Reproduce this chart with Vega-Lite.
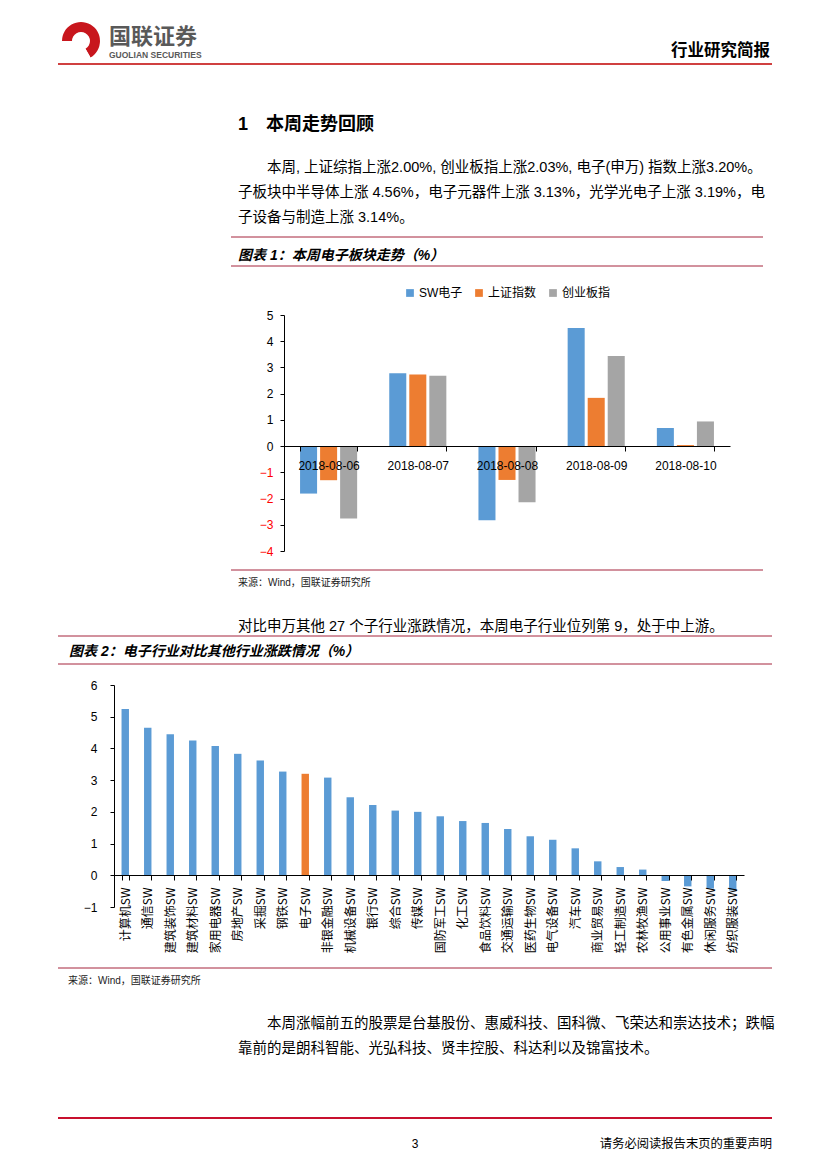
{
  "$schema": "https://vega.github.io/schema/vega-lite/v6.json",
  "background": "white",
  "padding": {"left": 57, "top": 22, "right": 0, "bottom": 0},
  "bounds": "flush",
  "spacing": 0,
  "resolve": {"scale": {"color": "independent"}, "legend": {"color": "independent"}},
  "config": {
    "view": {"stroke": null},
    "font": "Liberation Sans",
    "axis": {"domainColor": "black", "tickColor": "black", "labelColor": "black", "grid": false},
    "legend": {"layout": {"top": {"anchor": "middle"}}}
  },
  "datasets": {
    "logo": [
      {"seg": "弧", "v": 2},
      {"seg": "缺口", "v": 1}
    ],
    "chart1": [
      {"date": "2018-08-06", "series": "SW电子", "value": -1.81},
      {"date": "2018-08-06", "series": "上证指数", "value": -1.30},
      {"date": "2018-08-06", "series": "创业板指", "value": -2.76},
      {"date": "2018-08-07", "series": "SW电子", "value": 2.78},
      {"date": "2018-08-07", "series": "上证指数", "value": 2.73},
      {"date": "2018-08-07", "series": "创业板指", "value": 2.68},
      {"date": "2018-08-08", "series": "SW电子", "value": -2.83},
      {"date": "2018-08-08", "series": "上证指数", "value": -1.29},
      {"date": "2018-08-08", "series": "创业板指", "value": -2.14},
      {"date": "2018-08-09", "series": "SW电子", "value": 4.50},
      {"date": "2018-08-09", "series": "上证指数", "value": 1.84},
      {"date": "2018-08-09", "series": "创业板指", "value": 3.44},
      {"date": "2018-08-10", "series": "SW电子", "value": 0.69},
      {"date": "2018-08-10", "series": "上证指数", "value": 0.04},
      {"date": "2018-08-10", "series": "创业板指", "value": 0.94}
    ],
    "chart2": [
      {"industry": "计算机SW", "value": 5.24},
      {"industry": "通信SW", "value": 4.65},
      {"industry": "建筑装饰SW", "value": 4.45},
      {"industry": "建筑材料SW", "value": 4.25},
      {"industry": "家用电器SW", "value": 4.08},
      {"industry": "房地产SW", "value": 3.83},
      {"industry": "采掘SW", "value": 3.62},
      {"industry": "钢铁SW", "value": 3.27},
      {"industry": "电子SW", "value": 3.20},
      {"industry": "非银金融SW", "value": 3.08},
      {"industry": "机械设备SW", "value": 2.46},
      {"industry": "银行SW", "value": 2.22},
      {"industry": "综合SW", "value": 2.04},
      {"industry": "传媒SW", "value": 2.00},
      {"industry": "国防军工SW", "value": 1.86},
      {"industry": "化工SW", "value": 1.71},
      {"industry": "食品饮料SW", "value": 1.65},
      {"industry": "交通运输SW", "value": 1.46},
      {"industry": "医药生物SW", "value": 1.23},
      {"industry": "电气设备SW", "value": 1.12},
      {"industry": "汽车SW", "value": 0.85},
      {"industry": "商业贸易SW", "value": 0.44},
      {"industry": "轻工制造SW", "value": 0.26},
      {"industry": "农林牧渔SW", "value": 0.18},
      {"industry": "公用事业SW", "value": -0.18},
      {"industry": "有色金属SW", "value": -0.35},
      {"industry": "休闲服务SW", "value": -0.42},
      {"industry": "纺织服装SW", "value": -0.48}
    ]
  },
  "vconcat": [
    {
      "hconcat": [
        {
          "width": 4, "height": 1,
          "data": {"values": [{}]},
          "mark": {"type": "text", "text": "", "fontSize": 1, "baseline": "top"},
          "encoding": {}
        },
        {
          "width": 38, "height": 38,
          "data": {"name": "logo"},
          "mark": {"type": "arc", "innerRadius": 9, "outerRadius": 19},
          "encoding": {
            "theta": {"field": "v", "type": "quantitative", "stack": true, "scale": {"range": [2.62, 8.9]}},
            "color": {"field": "seg", "type": "nominal", "scale": {"domain": ["弧", "缺口"], "range": ["#C8161D", "#FFFFFF"]}, "legend": null},
            "order": {"field": "seg", "sort": "descending"}
          }
        }
      ],
      "spacing": 0,
      "bounds": "flush",
      "resolve": {"scale": {"color": "independent"}, "legend": {"color": "independent"}}
    },
    {
      "width": 1, "height": 42,
      "data": {"values": [{}]},
      "mark": {"type": "text", "text": "", "fontSize": 1, "baseline": "top"},
      "encoding": {}
    },
    {
      "hconcat": [
        {
          "width": 357, "height": 1,
          "title": {"text": "国联证券", "subtitle": "GUOLIAN SECURITIES", "anchor": "start", "frame": "group", "orient": "top", "offset": 3, "dx": 51, "baseline": "top", "font": "Noto Sans CJK SC", "fontSize": 22, "fontWeight": "bold", "color": "#595959", "subtitleFont": "Liberation Sans", "subtitleFontSize": 8.5, "subtitleFontWeight": "bold", "subtitleColor": "#595959", "subtitlePadding": 2},
          "data": {"values": [{}]},
          "mark": {"type": "rule", "color": "#C00000", "strokeWidth": 1.5},
          "encoding": {"y": {"datum": 1, "type": "quantitative", "scale": {"domain": [0, 1]}, "axis": null}}
        },
        {
          "width": 357, "height": 1,
          "title": {"text": "行业研究简报", "anchor": "end", "frame": "group", "orient": "top", "offset": 4, "dx": -2, "baseline": "top", "font": "Noto Sans CJK SC", "fontSize": 16.5, "fontWeight": "bold", "color": "black"},
          "data": {"values": [{}]},
          "mark": {"type": "rule", "color": "#C00000", "strokeWidth": 1.5},
          "encoding": {"y": {"datum": 1, "type": "quantitative", "scale": {"domain": [0, 1]}, "axis": null}}
        }
      ],
      "spacing": 0,
      "bounds": "flush"
    },
    {
      "width": 1, "height": 173,
      "data": {"values": [{}]},
      "mark": {"type": "text", "text": "", "fontSize": 1, "baseline": "top"},
      "encoding": {}
    },
    {
      "hconcat": [
        {
          "width": 173, "height": 1,
          "data": {"values": [{}]},
          "mark": {"type": "text", "text": "", "fontSize": 1, "baseline": "top"},
          "encoding": {}
        },
        {
          "vconcat": [
            {
              "width": 532, "height": 29,
              "title": {
                "text": "1\u2003本周走势回顾",
                "subtitle": ["\u200b\u3000\u3000本周, 上证综指上涨2.00%, 创业板指上涨2.03%, 电子(申万) 指数上涨3.20%。", "子板块中半导体上涨 4.56%，电子元器件上涨 3.13%，光学光电子上涨 3.19%，电", "子设备与制造上涨 3.14%。"],
                "anchor": "start", "frame": "group", "orient": "top", "offset": 12, "dx": 7, "baseline": "top",
                "font": "Liberation Sans, Noto Sans CJK SC", "fontSize": 18, "fontWeight": "bold", "color": "black",
                "subtitleFont": "Liberation Sans, Noto Sans CJK SC", "subtitleFontSize": 14.5, "subtitleFontWeight": "normal", "subtitleColor": "black", "subtitleLineHeight": 25, "subtitlePadding": 27
              },
              "data": {"values": [{}]},
              "mark": {"type": "rule", "color": "#A5243D", "strokeWidth": 1},
              "encoding": {"y": {"datum": 1, "type": "quantitative", "scale": {"domain": [0, 1]}, "axis": null}}
            },
            {
              "width": 532, "height": 49,
              "title": {"text": "图表 1：本周电子板块走势（%）", "anchor": "start", "frame": "group", "orient": "top", "offset": 3, "dx": 7, "baseline": "top", "font": "Liberation Sans, Noto Sans CJK SC", "fontSize": 14, "fontWeight": "bold", "fontStyle": "italic", "color": "black"},
              "data": {"values": [{}]},
              "mark": {"type": "rule", "color": "#A5243D", "strokeWidth": 1},
              "encoding": {"y": {"datum": 1, "type": "quantitative", "scale": {"domain": [0, 1]}, "axis": null}}
            },
            {
              "hconcat": [
                {
                  "width": 53, "height": 1,
                  "data": {"values": [{}]},
                  "mark": {"type": "text", "text": "", "fontSize": 1, "baseline": "top"},
                  "encoding": {}
                },
                {
                  "width": 446, "height": 236,
                  "data": {"name": "chart1"},
                  "mark": {"type": "bar"},
                  "encoding": {
                    "x": {"field": "date", "type": "nominal", "sort": null, "title": null,
                      "scale": {"paddingInner": 0.36, "paddingOuter": 0.18},
                      "axis": {"orient": "bottom", "offset": -105, "labelAngle": 0, "labelFont": "Liberation Sans", "labelFontSize": 12, "labelPadding": 9, "tickSize": 5, "tickBand": "extent", "zindex": 1, "domainWidth": 1}},
                    "xOffset": {"field": "series", "type": "nominal", "sort": ["SW电子", "上证指数", "创业板指"], "scale": {"paddingInner": 0.15, "paddingOuter": 0}},
                    "y": {"field": "value", "type": "quantitative", "title": null,
                      "scale": {"domain": [-4, 5], "nice": false},
                      "axis": {"values": [-4, -3, -2, -1, 0, 1, 2, 3, 4, 5], "labelFontSize": 12, "tickSize": 4, "labelPadding": 7,
                        "labelColor": {"condition": {"test": "datum.value < 0", "value": "#FF0000"}, "value": "black"}}},
                    "color": {"field": "series", "type": "nominal", "sort": ["SW电子", "上证指数", "创业板指"],
                      "scale": {"domain": ["SW电子", "上证指数", "创业板指"], "range": ["#5B9BD5", "#ED7D31", "#A5A5A5"]},
                      "legend": {"orient": "top", "direction": "horizontal", "title": null, "symbolType": "square", "symbolSize": 60, "labelFont": "Liberation Sans, Noto Sans CJK SC", "labelFontSize": 12, "labelColor": "black", "offset": 16, "columnPadding": 10, "labelOffset": 3}}
                  }
                }
              ],
              "spacing": 0,
              "bounds": "flush",
              "resolve": {"scale": {"color": "independent"}, "legend": {"color": "independent"}}
            },
            {
              "width": 1, "height": 255,
              "data": {"values": [{}]},
              "mark": {"type": "text", "text": "", "fontSize": 1, "baseline": "top"},
              "encoding": {}
            },
            {
              "width": 532, "height": 1,
              "title": {"text": "来源：Wind，国联证券研究所", "anchor": "start", "frame": "group", "orient": "bottom", "offset": 7, "dx": 7, "baseline": "top", "font": "Liberation Sans, Noto Sans CJK SC", "fontSize": 10, "fontWeight": "normal", "color": "#222222"},
              "data": {"values": [{}]},
              "mark": {"type": "rule", "color": "#A5243D", "strokeWidth": 1},
              "encoding": {"y": {"datum": 1, "type": "quantitative", "scale": {"domain": [0, 1]}, "axis": null}}
            }
          ],
          "spacing": 0,
          "bounds": "flush",
          "resolve": {"scale": {"color": "independent"}, "legend": {"color": "independent"}}
        }
      ],
      "spacing": 0,
      "bounds": "flush",
      "resolve": {"scale": {"color": "independent"}, "legend": {"color": "independent"}}
    },
    {
      "width": 1, "height": 399,
      "data": {"values": [{}]},
      "mark": {"type": "text", "text": "", "fontSize": 1, "baseline": "top"},
      "encoding": {}
    },
    {
      "width": 714, "height": 28,
      "title": {"text": "对比申万其他 27 个子行业涨跌情况，本周电子行业位列第 9，处于中上游。", "anchor": "start", "frame": "group", "orient": "top", "offset": 1, "dx": 180, "baseline": "top", "font": "Liberation Sans, Noto Sans CJK SC", "fontSize": 14.5, "fontWeight": "normal", "color": "black"},
      "data": {"values": [{}]},
      "mark": {"type": "rule", "color": "#A5243D", "strokeWidth": 1},
      "encoding": {"y": {"datum": 1, "type": "quantitative", "scale": {"domain": [0, 1]}, "axis": null}}
    },
    {
      "width": 714, "height": 21,
      "title": {"text": "图表 2：电子行业对比其他行业涨跌情况（%）", "anchor": "start", "frame": "group", "orient": "top", "offset": 5, "dx": 11, "baseline": "top", "font": "Liberation Sans, Noto Sans CJK SC", "fontSize": 14, "fontWeight": "bold", "fontStyle": "italic", "color": "black"},
      "data": {"values": [{}]},
      "mark": {"type": "rule", "color": "#A5243D", "strokeWidth": 1},
      "encoding": {"y": {"datum": 1, "type": "quantitative", "scale": {"domain": [0, 1]}, "axis": null}}
    },
    {
      "hconcat": [
        {
          "width": 56, "height": 1,
          "data": {"values": [{}]},
          "mark": {"type": "text", "text": "", "fontSize": 1, "baseline": "top"},
          "encoding": {}
        },
        {
          "width": 630, "height": 222,
          "data": {"name": "chart2"},
          "mark": {"type": "bar"},
          "encoding": {
            "x": {"field": "industry", "type": "nominal", "sort": null, "title": null,
              "scale": {"paddingInner": 0.67, "paddingOuter": 0.335},
              "axis": {"orient": "bottom", "offset": -32, "labelAngle": -90, "labelFont": "Noto Sans CJK SC", "labelFontSize": 12, "labelPadding": 7, "tickSize": 5, "tickBand": "extent", "zindex": 1}},
            "y": {"field": "value", "type": "quantitative", "title": null,
              "scale": {"domain": [-1, 6], "nice": false},
              "axis": {"values": [-1, 0, 1, 2, 3, 4, 5, 6], "labelFontSize": 12, "tickSize": 4, "labelPadding": 13}},
            "color": {"condition": {"test": "datum.industry === '电子SW'", "value": "#ED7D31"}, "value": "#5B9BD5"}
          }
        }
      ],
      "spacing": 0,
      "bounds": "flush"
    },
    {
      "width": 1, "height": 283,
      "data": {"values": [{}]},
      "mark": {"type": "text", "text": "", "fontSize": 1, "baseline": "top"},
      "encoding": {}
    },
    {
      "width": 714, "height": 1,
      "title": {"text": "来源：Wind，国联证券研究所", "anchor": "start", "frame": "group", "orient": "bottom", "offset": 7, "dx": 10, "baseline": "top", "font": "Liberation Sans, Noto Sans CJK SC", "fontSize": 10, "fontWeight": "normal", "color": "#222222"},
      "data": {"values": [{}]},
      "mark": {"type": "rule", "color": "#A5243D", "strokeWidth": 1},
      "encoding": {"y": {"datum": 1, "type": "quantitative", "scale": {"domain": [0, 1]}, "axis": null}}
    },
    {
      "width": 714, "height": 149,
      "title": {"text": "3", "anchor": "middle", "frame": "group", "orient": "bottom", "offset": 21, "baseline": "top", "font": "Liberation Sans", "fontSize": 12, "fontWeight": "normal", "color": "black"},
      "data": {"values": [{}]},
      "mark": {"type": "text", "text": "", "fontSize": 1, "baseline": "top"},
      "encoding": {}
    },
    {
      "hconcat": [
        {
          "width": 357, "height": 1,
          "title": {"text": ["\u200b\u3000\u3000本周涨幅前五的股票是台基股份、惠威科技、国科微、飞荣达和崇达技术；跌幅", "靠前的是朗科智能、光弘科技、贤丰控股、科达利以及锦富技术。"], "anchor": "start", "frame": "group", "orient": "top", "offset": 61, "dx": 180, "baseline": "top", "font": "Liberation Sans, Noto Sans CJK SC", "fontSize": 14.5, "fontWeight": "normal", "lineHeight": 25, "color": "black"},
          "data": {"values": [{}]},
          "mark": {"type": "rule", "color": "#C8102E", "strokeWidth": 2},
          "encoding": {"y": {"datum": 1, "type": "quantitative", "scale": {"domain": [0, 1]}, "axis": null}}
        },
        {
          "width": 357, "height": 1,
          "title": {"text": "请务必阅读报告末页的重要声明", "anchor": "end", "frame": "group", "orient": "bottom", "offset": 19, "baseline": "top", "font": "Noto Sans CJK SC", "fontSize": 12.3, "fontWeight": "normal", "color": "black"},
          "data": {"values": [{}]},
          "mark": {"type": "rule", "color": "#C8102E", "strokeWidth": 2},
          "encoding": {"y": {"datum": 1, "type": "quantitative", "scale": {"domain": [0, 1]}, "axis": null}}
        }
      ],
      "spacing": 0,
      "bounds": "flush"
    }
  ]
}
